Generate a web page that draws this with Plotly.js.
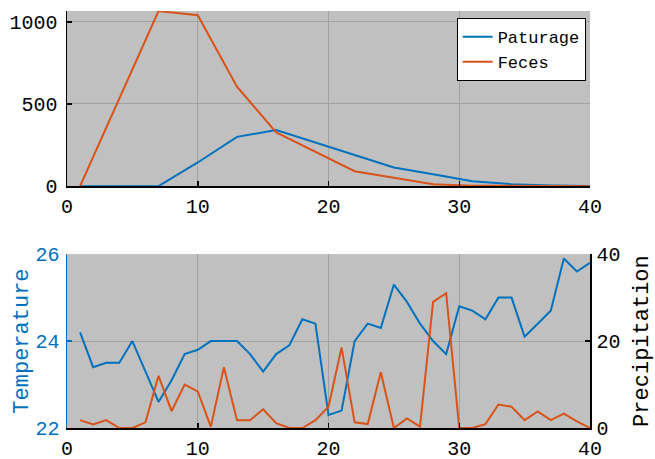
<!DOCTYPE html>
<html>
<head>
<meta charset="utf-8">
<script src="https://cdn.plot.ly/plotly-3.0.1.min.js"></script>
<style>
  html, body { margin: 0; padding: 0; background: #ffffff; }
  #chart { width: 655px; height: 459px; }
</style>
</head>
<body>
<div id="chart"></div>
<script>
// Upper panel: counts on pasture and in feces, sampled every 3 days
const stageDays = [1, 4, 7, 10, 13, 16, 19, 22, 25, 28, 31, 34, 37, 40];
const paturage  = [0, 0, 0, 144, 300, 341, 265, 189, 114, 72, 30, 12, 4, 1];
const feces     = [0, 533, 1066, 1040, 605, 327, 209, 91, 51, 12, 3, 1, 0, 0];

// Lower panel: daily weather
const days = [1, 2, 3, 4, 5, 6, 7, 8, 9, 10, 11, 12, 13, 14, 15, 16, 17, 18, 19, 20,
              21, 22, 23, 24, 25, 26, 27, 28, 29, 30, 31, 32, 33, 34, 35, 36, 37, 38, 39, 40];
const temperature = [24.2, 23.4, 23.5, 23.5, 24.0, 23.3, 22.6, 23.1, 23.7, 23.8,
                     24.0, 24.0, 24.0, 23.7, 23.3, 23.7, 23.9, 24.5, 24.4, 22.3,
                     22.4, 24.0, 24.4, 24.3, 25.3, 24.9, 24.4, 24.0, 23.7, 24.8,
                     24.7, 24.5, 25.0, 25.0, 24.1, 24.4, 24.7, 25.9, 25.6, 25.8];
const precipitation = [1.8, 0.8, 1.8, 0, 0, 1.3, 12, 3.9, 10, 8.4,
                       0.3, 14, 1.8, 1.8, 4.3, 1.1, 0, 0, 1.8, 4.9,
                       18.5, 1.3, 0.9, 12.8, 0, 2.2, 0.3, 29, 31, 0,
                       0, 0.9, 5.4, 4.9, 1.8, 3.8, 1.8, 3.3, 1.5, 0];

const xTicks = [0, 10, 20, 30, 40];
const countTicks = [0, 500, 1000];
const tempTicks = [22, 24, 26];
const precipTicks = [0, 20, 40];

const BLUE = '#0072BD';
const ORANGE = '#D95319';
const FONT = 'Liberation Mono, Courier New, monospace';
const BG = '#c0c0c0';
const GRID = '#a2a2a2';

const traces = [
  { x: stageDays, y: paturage, name: 'Paturage', type: 'scatter', mode: 'lines',
    line: { color: BLUE, width: 2 }, xaxis: 'x', yaxis: 'y' },
  { x: stageDays, y: feces, name: 'Feces', type: 'scatter', mode: 'lines',
    line: { color: ORANGE, width: 2 }, xaxis: 'x', yaxis: 'y' },
  { x: days, y: temperature, name: 'Temperature', type: 'scatter', mode: 'lines',
    line: { color: BLUE, width: 2 }, xaxis: 'x2', yaxis: 'y2', showlegend: false },
  { x: days, y: precipitation, name: 'Precipitation', type: 'scatter', mode: 'lines',
    line: { color: ORANGE, width: 2 }, xaxis: 'x2', yaxis: 'y3', showlegend: false }
];

const baseAxis = {
  showline: true, linewidth: 1.5, linecolor: '#000000',
  ticks: 'inside', ticklen: 5, tickwidth: 1.5, tickcolor: '#000000',
  showgrid: true, gridcolor: GRID, gridwidth: 1,
  zeroline: false, mirror: false,
  tickfont: { family: FONT, size: 20, color: '#000000' }
};

const layout = {
  width: 655, height: 459,
  margin: { l: 67, r: 65, t: 11, b: 31, pad: 0 },
  paper_bgcolor: '#ffffff',
  plot_bgcolor: BG,
  showlegend: true,
  legend: {
    x: 0.745, y: 0.983, xanchor: 'left', yanchor: 'top',
    bgcolor: '#ffffff', bordercolor: '#000000', borderwidth: 1,
    font: { family: FONT, size: 17, color: '#000000' },
    tracegroupgap: 0, itemwidth: 30
  },
  xaxis: Object.assign({}, baseAxis, {
    domain: [0, 1], anchor: 'y', range: [0, 40],
    tickvals: xTicks, ticklabelstandoff: 1
  }),
  yaxis: Object.assign({}, baseAxis, {
    domain: [0.58, 1], anchor: 'x', range: [0, 1066],
    tickvals: countTicks, ticklabelstandoff: 4
  }),
  xaxis2: Object.assign({}, baseAxis, {
    domain: [0, 1], anchor: 'y2', range: [0, 40],
    tickvals: xTicks, ticklabelstandoff: 1
  }),
  yaxis2: Object.assign({}, baseAxis, {
    domain: [0, 0.417], anchor: 'x2', range: [22, 26],
    tickvals: tempTicks, linecolor: BLUE, tickcolor: BLUE,
    tickfont: { family: FONT, size: 20, color: BLUE },
    ticklabelstandoff: 2,
    title: { text: 'Temperature', font: { family: FONT, size: 22, color: BLUE }, standoff: 0 }
  }),
  yaxis3: Object.assign({}, baseAxis, {
    overlaying: 'y2', side: 'right', anchor: 'x2', range: [0, 40],
    tickvals: precipTicks, showgrid: false, ticklabelstandoff: 1,
    title: { text: 'Precipitation', font: { family: FONT, size: 22, color: '#000000' }, standoff: 17 }
  })
};

Plotly.newPlot('chart', traces, layout, { staticPlot: true, displayModeBar: false });
</script>
</body>
</html>
